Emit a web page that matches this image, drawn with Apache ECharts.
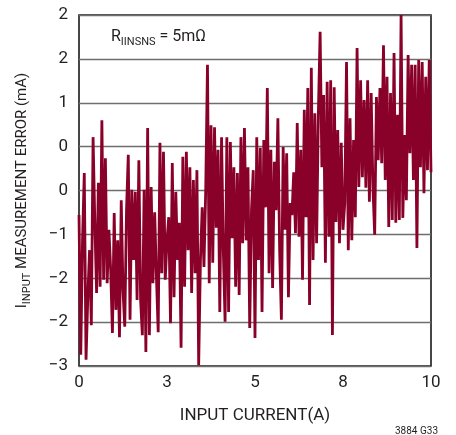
<!DOCTYPE html>
<html><head><meta charset="utf-8">
<script src="https://cdn.jsdelivr.net/npm/echarts/dist/echarts.min.js"></script>
<style>html,body{margin:0;padding:0;background:#fff}#c{width:456px;height:435px}</style>
</head><body><div id="c"></div>
<script>
// Tick labels as printed on the reference
const xTickLabels = ['0', '3', '5', '8', '10'];
const yTickLabels = ['−3', '−2', '−2', '−1', '0', '0', '1', '2', '2']; // bottom to top

// Sample grid of input current (A)
const currentStart = 0;
const currentStep = 0.05;

const errorValues = [
  -0.85, -2.84, -1.21, -0.25, -2.91, -2.02, -1.35, -2.42, 0.26, -0.96,
  -1.96, -0.39, -1.87, 0.50, -1.77, -0.04, -1.82, -1.06, -1.63, -2.53,
  -0.82, -2.20, -1.21, -2.59, -0.64, -1.92, -2.44, -0.78, 0.01, -2.34,
  -0.49, -1.49, -0.52, -2.06, -0.07, -2.06, -2.56, -0.49, -2.80, 0.39,
  -2.56, -0.45, -1.82, -0.81, -1.73, -2.52, 0.18, -1.68, 0.05, -1.77,
  -1.21, -0.88, -2.39, -0.11, -2.02, -0.52, -1.49, -0.96, -2.74, -0.02,
  -1.87, 0.05, -1.35, -0.17, -1.96, -0.35, -1.68, -0.21, -2.99, -1.49,
  -0.74, -1.59, -0.49, 1.29, -1.82, 0.43, -1.53, 0.40, -1.03, 0.08,
  -2.23, 0.26, -1.35, -2.37, 0.26, -2.23, 0.19, -1.18, -0.17, -1.87,
  -0.25, -1.99, 0.26, -1.25, 0.39, -1.21, -0.17, -2.46, -0.78, -0.21,
  -2.60, 0.26, -1.49, 0.11, -2.23, 0.22, -0.74, 0.96, -1.68, 0.08,
  -1.89, -0.09, -0.78, 0.53, -1.35, -2.34, 0.12, -1.06, 0.03, -2.02,
  -0.68, -0.85, -0.24, -1.11, 0.46, -1.16, 0.08, -1.77, 0.65, -0.88,
  0.96, -2.13, 1.25, -1.49, 0.60, -1.25, 0.60, 1.76, -0.17, 0.86,
  -1.53, 1.05, -1.16, 1.07, -2.56, 0.97, -0.95, 0.36, -1.25, 0.18,
  -1.06, -0.68, 1.33, -1.35, 0.53, -1.21, 0.22, -0.88, 1.53, -0.45,
  1.07, -0.31, 0.79, -0.46, 1.07, -0.66, 0.89, -0.45, -1.13, 0.83,
  -0.07, 0.96, -0.11, 1.57, -0.35, 1.12, -1.02, 0.89, -0.92, 1.46,
  -0.96, 0.58, -0.92, 2.00, -0.89, 0.29, -0.64, 1.43, 0.03, 1.29,
  -0.35, 1.29, -1.32, 1.36, -0.17, 1.33, -0.54, 1.12, -0.21, 1.36,
  -0.24
];

const seriesData = errorValues.map((v, i) => [currentStart + i * currentStep, v]);

const FONT = 'Roboto, "Liberation Sans", Arial, sans-serif';
const TXT = '#231f20';

const chart = echarts.init(document.getElementById('c'), null, {renderer: 'canvas'});
chart.setOption({
  animation: false,
  backgroundColor: '#fff',
  title: [
    {
      text: '{m|R}{s|IINSNS}{m| = 5mΩ}',
      left: 106, top: 24,
      textStyle: {
        fontWeight: 'normal',
        rich: {
          m: {fontFamily: FONT, fontSize: 16, fontWeight: 'normal', color: TXT, verticalAlign: 'bottom', padding: [0, 0, 3, 0]},
          s: {fontFamily: FONT, fontSize: 11, fontWeight: 'normal', color: TXT, verticalAlign: 'bottom'}
        }
      }
    },
    {
      text: '3884 G33',
      left: 390, top: 421,
      textStyle: {fontFamily: FONT, fontSize: 10, fontWeight: 'normal', color: TXT}
    }
  ],
  grid: {
    left: 79, top: 15, width: 352, height: 351,
    show: true, borderColor: '#1a1a1a', borderWidth: 1.6, backgroundColor: 'transparent'
  },
  xAxis: {
    type: 'value', min: 0, max: 10, interval: 2.5,
    name: 'INPUT CURRENT(A)', nameLocation: 'middle', nameGap: 41,
    nameTextStyle: {fontFamily: FONT, fontSize: 17, color: TXT},
    axisLine: {show: false}, axisTick: {show: false}, splitLine: {show: false},
    axisLabel: {
      fontFamily: FONT, fontSize: 17, color: TXT, margin: 8,
      formatter: (v) => xTickLabels[Math.round(v / 2.5)]
    }
  },
  yAxis: [
    {
      type: 'value', min: -3, max: 2, show: false,
      splitLine: {show: false}
    },
    {
      type: 'value', min: 0, max: 8, interval: 1, position: 'left',
      name: '{m|I}{s|INPUT}{m| MEASUREMENT ERROR (mA)}',
      nameLocation: 'middle', nameGap: 46, nameRotate: 90,
      nameTextStyle: {
        rich: {
          m: {fontFamily: FONT, fontSize: 15, color: TXT, verticalAlign: 'bottom', padding: [0, 0, 3, 0]},
          s: {fontFamily: FONT, fontSize: 11, color: TXT, verticalAlign: 'bottom'}
        }
      },
      axisLine: {show: false}, axisTick: {show: false},
      splitLine: {show: true, lineStyle: {color: '#6e6e6e', width: 1.3}},
      axisLabel: {
        fontFamily: FONT, fontSize: 17, color: TXT, margin: 11,
        formatter: (v) => yTickLabels[Math.round(v)]
      }
    }
  ],
  series: [{
    type: 'line',
    xAxisIndex: 0, yAxisIndex: 0,
    data: seriesData,
    showSymbol: false,
    lineStyle: {color: '#890029', width: 2.8},
    z: 3
  }]
});
</script>
</body></html>
